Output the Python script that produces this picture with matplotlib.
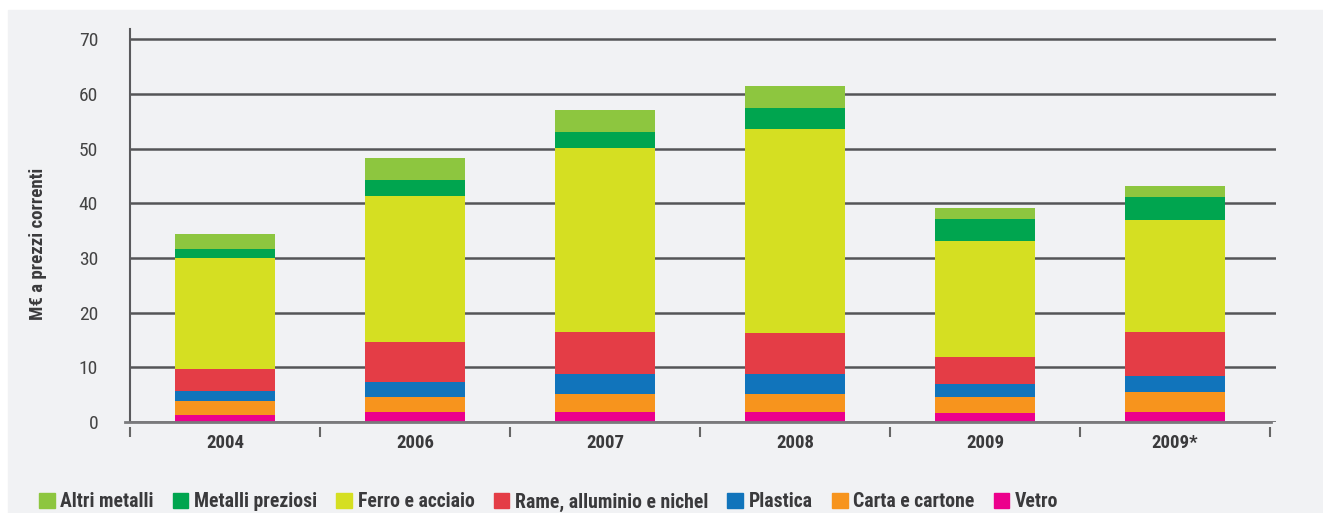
"""Stacked bars of recovered material value, M€ at current prices."""

import matplotlib.pyplot as plt
import numpy as np
from matplotlib.patches import Patch, Rectangle

years = ["2004", "2006", "2007", "2008", "2009", "2009*"]

# stack order, bottom to top
vetro = [1.2, 1.8, 1.8, 1.8, 1.6, 1.8]
carta = [2.6, 2.8, 3.3, 3.3, 2.9, 3.7]
plastica = [1.8, 2.7, 3.7, 3.7, 2.5, 3.0]
rame = [4.1, 7.3, 7.7, 7.5, 4.9, 7.9]
ferro = [20.3, 26.7, 33.6, 37.3, 21.2, 20.6]
preziosi = [1.7, 3.0, 2.9, 3.8, 4.0, 4.1]
altri = [2.7, 4.0, 4.0, 4.0, 2.0, 2.1]

series = [
    ("Vetro", vetro, "#ec008c"),
    ("Carta e cartone", carta, "#f7941d"),
    ("Plastica", plastica, "#1174bb"),
    ("Rame, alluminio e nichel", rame, "#e43d46"),
    ("Ferro e acciaio", ferro, "#d5df22"),
    ("Metalli preziosi", preziosi, "#00a54f"),
    ("Altri metalli", altri, "#8dc63f"),
]

BG = "#f1f2f4"
TXT = "#3a3a3c"
plt.rcParams["font.family"] = ["Roboto Condensed", "Roboto", "DejaVu Sans"]

fig = plt.figure(figsize=(13.23, 5.13), dpi=100, facecolor="white")
fig.patches.append(Rectangle((8 / 1323, 0), 1, 1 - 10 / 513,
                             transform=fig.transFigure, color=BG, zorder=-10))
ax = fig.add_axes([130 / 1323, 91 / 513, 1146 / 1323, 393 / 513])
ax.patch.set_alpha(0)

x = np.arange(len(years))
bottom = np.zeros(len(years))
for name, vals, color in series:
    ax.bar(x, vals, 0.526, bottom=bottom, color=color, zorder=3)
    bottom += np.array(vals)

ax.set_xlim(-0.5, 5.532)
ax.set_ylim(0, 71.9)
ax.set_yticks(range(0, 71, 10))
ax.yaxis.grid(True, color="#555557", lw=1.8, zorder=1)
ax.tick_params(axis="y", length=0, pad=23, labelsize=14, labelcolor="#444444")
ax.set_xticks(x, years)
ax.tick_params(axis="x", length=0, pad=9, labelsize=13.5, labelcolor=TXT)
for lab in ax.get_xticklabels():
    lab.set_fontweight("bold")
for s in ax.spines.values():
    s.set_visible(False)
ax.spines["left"].set_visible(True)
ax.spines["left"].set_color("#5a5a5c")
ax.spines["left"].set_linewidth(1.5)
ax.axhline(0, xmin=-5 / 1146, xmax=1141 / 1146, color="#7a7a7c", lw=2,
           clip_on=False, zorder=4)
ax.vlines(np.arange(len(years) + 1) - 0.5, -1.0, -2.8, color="#666666",
          lw=1.5, clip_on=False)

fig.text(38 / 1323, 1 - 244 / 513, "M€ a prezzi correnti", rotation=90,
         ha="center", va="center", fontsize=13.6, fontweight="bold", color=TXT)

handles = [Patch(color=c, label=n) for n, _, c in series[::-1]]
leg = fig.legend(handles=handles, ncol=7, loc="center left",
                 bbox_to_anchor=(21 / 1323, 1 - 502 / 513), frameon=False,
                 prop={"size": 14.2, "weight": "bold"}, handlelength=0.8,
                 handleheight=0.8, handletextpad=0.3, columnspacing=0.95)
for t in leg.get_texts():
    t.set_color(TXT)

fig.savefig("out.png", dpi=100)
